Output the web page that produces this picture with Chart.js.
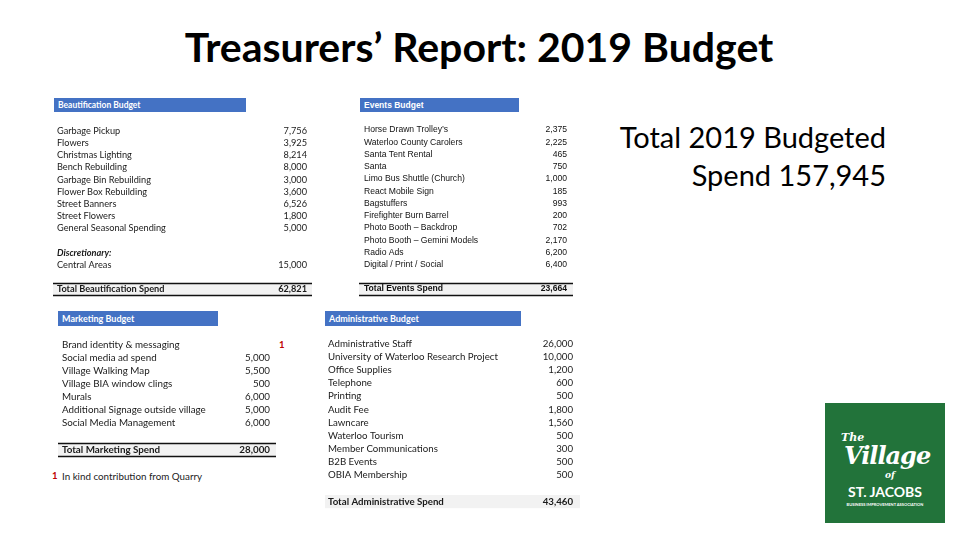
<!DOCTYPE html>
<html><head><meta charset="utf-8">
<script src="https://cdn.jsdelivr.net/npm/chart.js@4/dist/chart.umd.min.js"></script>
<style>
html,body{margin:0;padding:0}
body{width:960px;height:540px;background:#fff;position:relative;overflow:hidden;font-family:Lato,"Noto Sans",sans-serif;color:#000}
.abs{position:absolute;white-space:nowrap}
.hdr{position:absolute;background:#4472C4;color:#fff;font-weight:bold;font-size:8.5px;height:14px;line-height:14px;padding-left:4px;box-sizing:border-box;white-space:nowrap}
canvas{position:absolute}
</style></head><body>
<div class="abs" id="title" style="left:0;width:958px;text-align:center;top:25px;font-size:41px;line-height:44px;font-weight:bold;color:#000">Treasurers’ Report: 2019 Budget</div>
<div class="abs" id="grand" style="right:74px;top:118px;font-size:29px;line-height:38px;text-align:right;color:#000"></div>

<div class="hdr" style="left:54px;top:98px;width:192px">Beautification Budget</div>
<div class="hdr" style="left:360px;top:98px;width:159px;font-family:'Liberation Sans',Arial,sans-serif">Events Budget</div>
<div class="hdr" style="left:58px;top:311px;width:160px;height:15px;line-height:15px;font-size:9px">Marketing Budget</div>
<div class="hdr" style="left:325px;top:311px;width:196px;height:15px;line-height:15px;font-size:9px">Administrative Budget</div>

<div class="abs" style="left:279px;top:338px;font-size:9.5px;line-height:14px;color:#C00000;font-weight:bold">1</div>
<div class="abs" style="left:52px;top:469px;font-size:9.5px;line-height:14px;color:#C00000;font-weight:bold">1</div>
<div class="abs" id="foot" style="left:62px;top:469px;font-size:9.8px;line-height:14px;color:#222">In kind contribution from Quarry</div>

<div class="abs" id="logo" style="left:825px;top:403px;width:120px;height:120px;background:#22733A;color:#fff">
  <div class="abs" style="left:16px;top:28px;font-size:11px;font-style:italic;font-weight:bold;font-family:'DejaVu Serif',serif">The</div>
  <div class="abs" style="left:19px;top:39px;font-size:24px;line-height:28px;font-style:italic;font-weight:bold;font-family:'DejaVu Serif',serif;letter-spacing:-1px">Village</div>
  <div class="abs" style="left:60px;top:67px;font-size:9px;font-style:italic;font-weight:bold;font-family:'DejaVu Serif',serif">of</div>
  <div class="abs" style="left:0;width:120px;text-align:center;top:81px;font-size:14px;line-height:16px;font-weight:bold">ST. JACOBS</div>
  <div class="abs" style="left:0;width:120px;text-align:center;top:99px;font-size:4px;line-height:5px;font-weight:bold">BUSINESS IMPROVEMENT ASSOCIATION</div>
</div>

<canvas id="cBeaut"></canvas>
<canvas id="cEvents"></canvas>
<canvas id="cMarket"></canvas>
<canvas id="cAdmin"></canvas>

<script>
// ---- Data ----
const beautItems = ['Garbage Pickup','Flowers','Christmas Lighting','Bench Rebuilding','Garbage Bin Rebuilding','Flower Box Rebuilding','Street Banners','Street Flowers','General Seasonal Spending'];
const beautAmounts = [7756,3925,8214,8000,3000,3600,6526,1800,5000];
const beautDiscHeading = 'Discretionary:';
const beautDiscItems = ['Central Areas'];
const beautDiscAmounts = [15000];
const beautTotalLabel = 'Total Beautification Spend';
const beautTotal = 62821;

const eventItems = ['Horse Drawn Trolley’s','Waterloo County Carolers','Santa Tent Rental','Santa','Limo Bus Shuttle (Church)','React Mobile Sign','Bagstuffers','Firefighter Burn Barrel','Photo Booth – Backdrop','Photo Booth – Gemini Models','Radio Ads','Digital / Print / Social'];
const eventAmounts = [2375,2225,465,750,1000,185,993,200,702,2170,6200,6400];
const eventTotalLabel = 'Total Events Spend';
const eventTotal = 23664;

const marketItems = ['Brand identity & messaging','Social media ad spend','Village Walking Map','Village BIA window clings','Murals','Additional Signage outside village','Social Media Management'];
const marketAmounts = [null,5000,5500,500,6000,5000,6000];
const marketTotalLabel = 'Total Marketing Spend';
const marketTotal = 28000;

const adminItems = ['Administrative Staff','University of Waterloo Research Project','Office Supplies','Telephone','Printing','Audit Fee','Lawncare','Waterloo Tourism','Member Communications','B2B Events','OBIA Membership'];
const adminAmounts = [26000,10000,1200,600,500,1800,1560,500,300,500,500];
const adminTotalLabel = 'Total Administrative Spend';
const adminTotal = 43460;

const grandTotalLabel = 'Total 2019 Budgeted';
const grandTotalPrefix = 'Spend';
const grandTotal = 157945;

// ---- helpers ----
const fmt = v => (v === null || v === undefined) ? '' : v.toLocaleString('en-US');
document.getElementById('grand').innerHTML = grandTotalLabel + '<br>' + grandTotalPrefix + ' ' + fmt(grandTotal);

function itemRows(items, amounts){ return items.map((l,i)=>({label:l, amount:amounts[i], kind:'item'})); }

const totalRowPlugin = {
  id:'totalRow',
  beforeDraw(chart, args, opts){
    const ys = chart.scales.y; const ca = chart.chartArea;
    const n = ys.getLabels().length;
    const half = (ca.bottom - ca.top) / n / 2;
    const idx = n - 1;
    const y = ys.getPixelForValue(idx);
    const ctx = chart.ctx;
    ctx.save();
    ctx.fillStyle = '#F2F2F2';
    ctx.fillRect(0, y - half, chart.width, half * 2);
    if (opts.lines){
      ctx.strokeStyle = '#111'; ctx.lineWidth = 1.3;
      ctx.beginPath();
      ctx.moveTo(0, Math.round(y - half) + 0.5); ctx.lineTo(chart.width, Math.round(y - half) + 0.5);
      ctx.moveTo(0, Math.round(y + half) + 0.5); ctx.lineTo(chart.width, Math.round(y + half) + 0.5);
      ctx.stroke();
    }
    ctx.restore();
  }
};

function makeTable(id, rows, g){
  const n = rows.length;
  const step = (g.lastY - g.firstY) / (n - 1);
  const areaTop = g.firstY - step / 2;
  const areaH = n * step;
  const pad = 4;
  const cv = document.getElementById(id);
  const W = g.boxRight - g.boxLeft;
  const H = Math.ceil(areaH + pad * 2 + 1);
  cv.style.left = g.boxLeft + 'px';
  cv.style.top = (areaTop - pad) + 'px';
  cv.width = W; cv.height = H;
  cv.style.width = W + 'px'; cv.style.height = H + 'px';
  const padL = g.labelX - g.boxLeft, padR = g.boxRight - g.amountRight;
  const avail = W - padL - padR;
  const labels = rows.map(r => r.label);
  const amountLabels = rows.map(r => fmt(r.amount));
  const fontFor = (ctx) => {
    const r = rows[ctx.index] || {};
    return {family: g.family, size: g.size,
      weight: (r.kind === 'total' || r.kind === 'italic') ? 'bold' : 'normal',
      style: r.kind === 'italic' ? 'italic' : 'normal'};
  };
  const baseScale = (pos, w) => ({
    type:'category', position:pos, offset:true,
    grid:{display:false, drawTicks:false}, border:{display:false},
    ticks:{crossAlign:'far', padding:0, autoSkip:false, color:g.color, font:fontFor},
    afterFit(s){ s.width = w; s.paddingTop = 0; s.paddingBottom = 0; }
  });
  const yScale = baseScale('left', Math.floor(avail * 0.76));
  const y2Scale = baseScale('right', Math.floor(avail * 0.2));
  y2Scale.labels = amountLabels;
  new Chart(cv, {
    type:'bar',
    data:{labels, datasets:[{data: rows.map(r => r.amount), backgroundColor:'rgba(0,0,0,0)', borderWidth:0, yAxisID:'y', xAxisID:'x'}]},
    options:{
      indexAxis:'y', responsive:false, animation:false, devicePixelRatio:1,
      layout:{padding:{left:padL, right:padR, top:pad, bottom:H - pad - areaH}},
      plugins:{legend:{display:false}, tooltip:{enabled:false}, title:{display:false}, totalRow:{lines:g.lines}},
      scales:{ x:{display:false}, y:yScale, y2:y2Scale }
    },
    plugins:[totalRowPlugin]
  });
}

const beautRows = [...itemRows(beautItems, beautAmounts),
  {label:'', amount:null, kind:'blank'},
  {label:beautDiscHeading, amount:null, kind:'italic'},
  ...itemRows(beautDiscItems, beautDiscAmounts),
  {label:'', amount:null, kind:'blank'},
  {label:beautTotalLabel, amount:beautTotal, kind:'total'}];
const eventRows = [...itemRows(eventItems, eventAmounts),
  {label:'', amount:null, kind:'blank'},
  {label:eventTotalLabel, amount:eventTotal, kind:'total'}];
const marketRows = [...itemRows(marketItems, marketAmounts),
  {label:'', amount:null, kind:'blank'},
  {label:marketTotalLabel, amount:marketTotal, kind:'total'}];
const adminRows = [...itemRows(adminItems, adminAmounts),
  {label:'', amount:null, kind:'blank'},
  {label:adminTotalLabel, amount:adminTotal, kind:'total'}];

makeTable('cBeaut', beautRows, {boxLeft:53, boxRight:312, labelX:57, amountRight:307, firstY:131, lastY:289, family:'Lato', size:9.2, color:'#1a1a1a', lines:true});
makeTable('cEvents', eventRows, {boxLeft:359, boxRight:573, labelX:364, amountRight:567, firstY:130.5, lastY:289.5, family:'Liberation Sans', size:8.6, color:'#111', lines:true});
makeTable('cMarket', marketRows, {boxLeft:58, boxRight:276, labelX:62, amountRight:270, firstY:345, lastY:450, family:'Lato', size:9.8, color:'#1a1a1a', lines:true});
makeTable('cAdmin', adminRows, {boxLeft:325, boxRight:580, labelX:328, amountRight:573, firstY:344, lastY:502, family:'Lato', size:9.7, color:'#1a1a1a', lines:false});
</script>
</body></html>
